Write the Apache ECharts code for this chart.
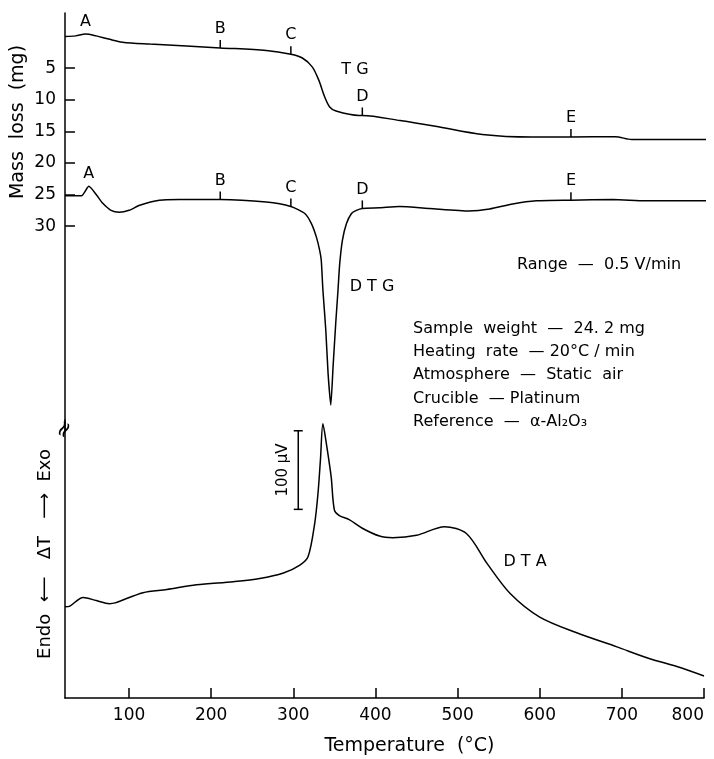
<!DOCTYPE html>
<html><head><meta charset="utf-8">
<script src="https://cdn.jsdelivr.net/npm/echarts@6/dist/echarts.min.js"></script>
<style>html,body{margin:0;padding:0;background:#fff}#c{width:714px;height:759px}</style>
</head><body><div id="c"></div>
<script>
// ---- data ----
const tempTicks = [100, 200, 300, 400, 500, 600, 700, 800];
const massTicks = [5, 10, 15, 20, 25, 30];

// TG : mass loss (mg)
const tgT    = [22, 35, 47, 60, 75, 92, 125, 170, 211, 267, 297, 311, 323, 331, 338, 344, 352, 380, 384, 430, 473, 530, 590, 638, 692, 712, 760, 803];
const tgMass = [0.0, -0.1, -0.4, -0.1, 0.4, 0.9, 1.2, 1.5, 1.8, 2.2, 2.8, 3.4, 4.8, 6.9, 9.5, 11.1, 11.8, 12.5, 12.5, 13.3, 14.2, 15.5, 15.9, 15.9, 15.85, 16.3, 16.3, 16.3];

// DTG (plotted against the mass-loss scale)
const dtgT   = [22, 42, 51, 60, 68, 78, 88, 100, 113, 137, 161, 211, 267, 297, 314, 322, 328, 332, 334, 336, 339.5, 342.3, 345.6, 348.4, 351.6, 354.4, 356.5, 359.8, 364.7, 370.8, 376.8, 384, 405, 429, 466, 514, 539, 567, 596, 638, 689, 729, 810];
const dtgVal = [25.2, 25.2, 23.7, 25.0, 26.4, 27.5, 27.8, 27.5, 26.7, 25.9, 25.8, 25.8, 26.2, 26.9, 28.0, 29.6, 31.7, 33.8, 35.4, 40.1, 46.4, 53.3, 58.3, 52.2, 45.4, 40.1, 35.9, 32.2, 29.6, 28.0, 27.5, 27.2, 27.1, 26.9, 27.2, 27.6, 27.3, 26.5, 26.0, 25.9, 25.8, 26.0, 26.0];

// DTA (µV, relative)
const dtaT   = [22, 28, 44, 60, 76, 83, 117, 146, 182, 227, 259, 288, 308, 318, 326, 330, 333, 336, 339, 346, 350, 356, 368, 384, 405, 421, 450, 484, 511, 536, 564, 600, 645, 694, 734, 767, 800];
const dtaVal = [116, 117, 128, 124, 120, 121, 134, 138, 144, 148, 152, 159, 169, 180, 222, 260, 303, 349, 332, 282, 239, 232, 227, 216, 206, 204, 207, 218, 209, 171, 133, 103, 83, 65, 50, 40, 28];

// stage markers
const markLetters = ['B', 'C', 'D', 'E'];
const tgMarkT   = [211, 297, 384, 638];
const tgMarkVal = [1.8, 2.8, 12.5, 15.9];
const dtgMarkT   = [211, 297, 384, 638];
const dtgMarkVal = [25.8, 26.9, 27.2, 25.9];
const tgPeakA  = [47, -0.4];
const dtgPeakA = [51, 23.7];

// 100 µV scale bar
const scaleBarT = 306;
const scaleBarVal = [240, 340];

const notes = ['Sample  weight  —  24. 2 mg', 'Heating  rate  — 20°C / min', 'Atmosphere  —  Static  air', 'Crucible  — Platinum', 'Reference  —  α-Al₂O₃'];

// ---- chart ----
const FONT = 'DejaVu Sans';
const zip = (a, b) => a.map((v, i) => [v, b[i]]);
const chart = echarts.init(document.getElementById('c'), null, {renderer: 'canvas'});

const axisCommon = {
  axisLine: {show: true, lineStyle: {color: '#000', width: 1.5}},
  splitLine: {show: false},
};
const lineStyle = {color: '#000', width: 1.5, opacity: 1};

function markSeries(T, V, yIdx, gIdx) {
  return {
    type: 'scatter', xAxisIndex: gIdx, yAxisIndex: yIdx,
    symbol: 'rect', symbolSize: [1.5, 8], symbolOffset: [0, -4],
    itemStyle: {color: '#000', opacity: 1},
    label: {show: true, position: 'top', distance: 3, formatter: '{b}', color: '#000', opacity: 1, fontFamily: FONT, fontSize: 16},
    data: T.map((t, i) => ({name: markLetters[i], value: [t, V[i]]})),
    silent: true, z: 5
  };
}
function peakLabel(p, yIdx, gIdx) {
  return {
    type: 'scatter', xAxisIndex: gIdx, yAxisIndex: yIdx,
    symbol: 'rect', symbolSize: [0.1, 0.1],
    itemStyle: {color: 'rgba(0,0,0,0)'},
    label: {show: true, position: 'top', distance: 4, formatter: '{b}', color: '#000', opacity: 1, fontFamily: FONT, fontSize: 16},
    data: [{name: 'A', value: p}], silent: true
  };
}

const txt = (size) => size + 'px "DejaVu Sans"';
const option = {
  backgroundColor: '#fff',
  animation: false,
  textStyle: {fontFamily: FONT, color: '#000'},
  grid: [
    {left: 65, right: 10, top: 13, height: 417, containLabel: false, outerBoundsMode: 'none'},
    {left: 65, right: 10, top: 420, bottom: 61, containLabel: false, outerBoundsMode: 'none'}
  ],
  xAxis: [
    {type: 'value', gridIndex: 0, min: 22, max: 800, show: false},
    Object.assign({type: 'value', gridIndex: 1, min: 22, max: 800,
      axisTick: {show: true, inside: true, length: 10, lineStyle: {color: '#000', width: 1.5}, customValues: tempTicks},
      axisLabel: {show: true, color: '#000', fontFamily: FONT, fontSize: 17, margin: 9, customValues: tempTicks, alignMaxLabel: 'right'},
      name: 'Temperature  (°C)', nameLocation: 'middle', nameGap: 39,
      nameTextStyle: {color: '#000', fontFamily: FONT, fontSize: 19, padding: [0, 0, 0, 50]}
    }, axisCommon)
  ],
  yAxis: [
    Object.assign({type: 'value', gridIndex: 0, inverse: true, min: -3.72, max: 62.26,
      axisTick: {show: true, inside: true, length: 10, lineStyle: {color: '#000', width: 1.5}, customValues: massTicks},
      axisLabel: {show: true, color: '#000', fontFamily: FONT, fontSize: 17, margin: 9, customValues: massTicks}
    }, axisCommon),
    Object.assign({type: 'value', gridIndex: 1, min: 0, max: 353.7,
      axisTick: {show: false}, axisLabel: {show: false},
      name: 'Endo  ⟵   ΔT   ⟶  Exo', nameLocation: 'middle', nameGap: 11,
      nameTextStyle: {color: '#000', fontFamily: FONT, fontSize: 18, padding: [0, 0, 0, 10]}
    }, axisCommon)
  ],
  series: [
    {name: 'TG', type: 'line', xAxisIndex: 0, yAxisIndex: 0, data: zip(tgT, tgMass), showSymbol: false, symbol: 'none', smooth: 0.3, lineStyle, clip: false, silent: true},
    {name: 'DTG', type: 'line', xAxisIndex: 0, yAxisIndex: 0, data: zip(dtgT, dtgVal), showSymbol: false, symbol: 'none', smooth: 0.2, lineStyle, clip: false, silent: true},
    {name: 'DTA', type: 'line', xAxisIndex: 1, yAxisIndex: 1, data: zip(dtaT, dtaVal), showSymbol: false, symbol: 'none', smooth: 0.3, lineStyle, clip: false, silent: true},
    {name: 'scale', type: 'line', xAxisIndex: 1, yAxisIndex: 1, data: scaleBarVal.map(v => [scaleBarT, v]),
      symbol: 'rect', symbolSize: [9, 1.5], showSymbol: true, itemStyle: {color: '#000', opacity: 1}, lineStyle, silent: true},
    markSeries(tgMarkT, tgMarkVal, 0, 0),
    markSeries(dtgMarkT, dtgMarkVal, 0, 0),
    peakLabel(tgPeakA, 0, 0),
    peakLabel(dtgPeakA, 0, 0)
  ],
  graphic: [
    {type: 'text', x: 18, y: 122, rotation: Math.PI / 2, style: {text: 'Mass  loss  (mg)', font: txt(19), fill: '#000', textAlign: 'center', textVerticalAlign: 'middle', verticalAlign: 'middle'}},
    {type: 'text', x: 65, y: 430, rotation: 1.1, z: 10, style: {text: '≈', font: txt(22), fill: '#000', textAlign: 'center', textVerticalAlign: 'middle', verticalAlign: 'middle'}},
    {type: 'text', x: 355, y: 70, style: {text: 'T G', font: txt(16), fill: '#000', textAlign: 'center', textVerticalAlign: 'middle', verticalAlign: 'middle'}},
    {type: 'text', x: 372, y: 287, style: {text: 'D T G', font: txt(16), fill: '#000', textAlign: 'center', textVerticalAlign: 'middle', verticalAlign: 'middle'}},
    {type: 'text', x: 525, y: 562, style: {text: 'D T A', font: txt(16), fill: '#000', textAlign: 'center', textVerticalAlign: 'middle', verticalAlign: 'middle'}},
    {type: 'text', x: 283, y: 470, rotation: Math.PI / 2, style: {text: '100 µV', font: txt(15), fill: '#000', textAlign: 'center', textVerticalAlign: 'middle', verticalAlign: 'middle'}},
    {type: 'text', x: 599, y: 265, style: {text: 'Range  —  0.5 V/min', font: txt(16), fill: '#000', textAlign: 'center', textVerticalAlign: 'middle', verticalAlign: 'middle'}}
  ].concat(notes.map((t, i) => ({type: 'text', x: 413, y: 328.5 + i * 23.3,
    style: {text: t, font: txt(16), fill: '#000', textAlign: 'left', textVerticalAlign: 'middle', verticalAlign: 'middle'}})))
};
chart.setOption(option);
</script>
</body></html>
